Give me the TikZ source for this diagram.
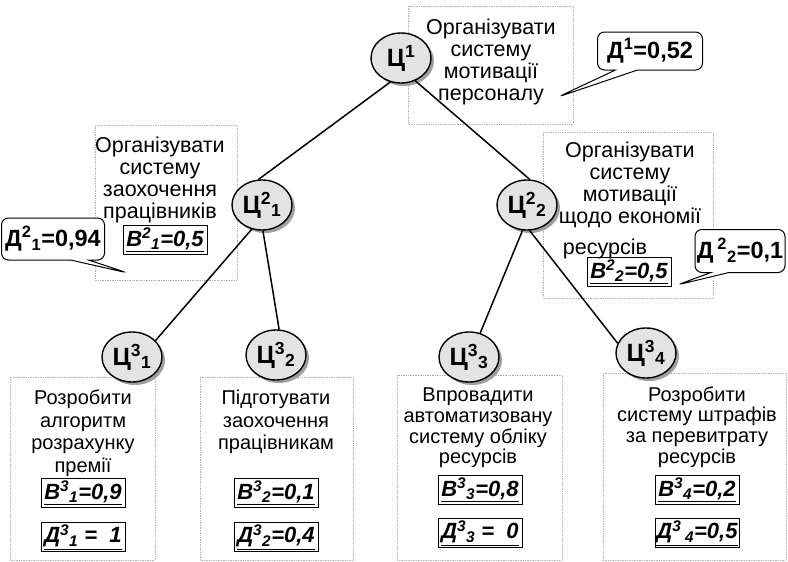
\documentclass[tikz,border=0pt]{standalone}
\usepackage{fontspec}
\setmainfont{Liberation Sans}
\usetikzlibrary{shapes.geometric,shapes.callouts,shadows}
\tikzset{
 goal/.style={ellipse, draw, line width=1.4pt, fill=gray!22, minimum width=60pt, minimum height=50pt, inner sep=0pt,
   font=\fontsize{25}{25}\selectfont\bfseries,
   drop shadow={shadow xshift=3pt, shadow yshift=-3pt, fill=gray!75, opacity=1}},
 dotbox/.style={draw=gray!60, densely dotted, line width=0.7pt},
 desc/.style={align=center, inner sep=0pt},
 descA/.style={desc, font=\fontsize{21.5}{22}\selectfont},
 descB/.style={desc, font=\fontsize{20}{22.5}\selectfont},
 descC/.style={desc, font=\fontsize{20}{20.7}\selectfont},
 val/.style={draw, line width=0.7pt, inner sep=1pt, minimum width=84pt, minimum height=29pt,
   font=\fontsize{22}{22}\selectfont\bfseries\itshape},
 call/.style={rectangle callout, draw, line width=1pt, rounded corners=7pt, fill=white,
   font=\fontsize{23.5}{24}\selectfont\bfseries, inner sep=0pt},
 link/.style={line width=1.5pt}
}
\newcommand{\vv}[1]{\underline{#1}}
\begin{document}
\begin{tikzpicture}[x=1pt,y=-1pt]
\useasboundingbox[fill=white] (0,0) rectangle (788,562);

% dotted description boxes
\draw[dotbox] (408,6) rectangle (573,124);
\draw[dotbox] (95,125) rectangle (237,280);
\draw[dotbox] (543,132) rectangle (713,298);
\draw[dotbox] (10,377) rectangle (155,560);
\draw[dotbox] (200,377) rectangle (353,560);
\draw[dotbox] (397,375) rectangle (562,560);
\draw[dotbox] (603,373) rectangle (786,560);

% descriptions
\node[descA] (t1) at (491,62) {Організувати\\систему\\мотивації\\персоналу};
\node[descA] (t21) at (160,180) {Організувати\\систему\\заохочення\\працівників};
\node[descA] (t22) at (630,185) {Організувати\\систему\\мотивації\\щодо економії};
\node[descA] (t22b) at (605,249) {ресурсів};
\node[descB] (t31) at (83,433) {Розробити\\алгоритм\\розрахунку\\премії};
\node[descB] (t32) at (276,422) {Підготувати\\заохочення\\працівникам};
\node[descC] (t33) at (478,428) {Впровадити\\автоматизовану\\систему обліку\\ресурсів};
\node[descC] (t34) at (697,427) {Розробити\\систему штрафів\\за перевитрату\\ресурсів};

% value boxes
\node[val] (b21) at (165,240) {\vv{В\textsuperscript{2}\textsubscript{1}=0,5}};
\node[val] (b22) at (629,272) {\vv{В\textsuperscript{2}\textsubscript{2}=0,5}};
\node[val] (b31) at (83,493) {\vv{В\textsuperscript{3}\textsubscript{1}=0,9}};
\node[val] (d31) at (83,537) {\vv{Д\textsuperscript{3}\textsubscript{1} =\ \ 1}};
\node[val] (b32) at (276,493) {\vv{В\textsuperscript{3}\textsubscript{2}=0,1}};
\node[val] (d32) at (276,537) {\vv{Д\textsuperscript{3}\textsubscript{2}=0,4}};
\node[val] (b33) at (480,490) {\vv{В\textsuperscript{3}\textsubscript{3}=0,8}};
\node[val] (d33) at (480,533) {\vv{Д\textsuperscript{3}\textsubscript{3} =\ \ 0}};
\node[val] (b34) at (697,490) {\vv{В\textsuperscript{3}\textsubscript{4}=0,2}};
\node[val] (d34) at (697,533) {\vv{Д\textsuperscript{3}\,\textsubscript{4}=0,5}};

% goals
\node[goal] (c1) at (401,58) {Ц\textsuperscript{1}};
\node[goal] (c21) at (262,205) {Ц\textsuperscript{2}\textsubscript{1}};
\node[goal] (c22) at (527,205) {Ц\textsuperscript{2}\textsubscript{2}};
\node[goal] (c31) at (132,357) {Ц\textsuperscript{3}\textsubscript{1}};
\node[goal] (c32) at (276,355) {Ц\textsuperscript{3}\textsubscript{2}};
\node[goal] (c33) at (469,357) {Ц\textsuperscript{3}\textsubscript{3}};
\node[goal] (c34) at (646,353) {Ц\textsuperscript{3}\textsubscript{4}};

% links
\draw[link] (c1.-114) -- (c21.98);
\draw[link] (c1.-58) -- (c22.84);
\draw[link] (c21.-113) -- (c31.35);
\draw[link] (c21.-88) -- (c32.83);
\draw[link] (c22.-100) -- (c33.65);
\draw[link] (c22.-84) -- (c34.161);

% callouts
\node[call, minimum width=105pt, minimum height=38pt, callout absolute pointer={(558,97)}, callout pointer width=22pt] (k1) at (650,51) {Д\textsuperscript{1}=0,52};
\node[call, minimum width=103pt, minimum height=42pt, callout absolute pointer={(128,273)}, callout pointer width=18pt] (k21) at (53,239) {Д\textsuperscript{2}\textsubscript{1}=0,94};
\node[call, minimum width=90pt, minimum height=43pt, callout absolute pointer={(677,285)}, callout pointer width=18pt] (k22) at (740,251) {Д\,\textsuperscript{2}\textsubscript{2}=0,1};
\end{tikzpicture}
\end{document}
